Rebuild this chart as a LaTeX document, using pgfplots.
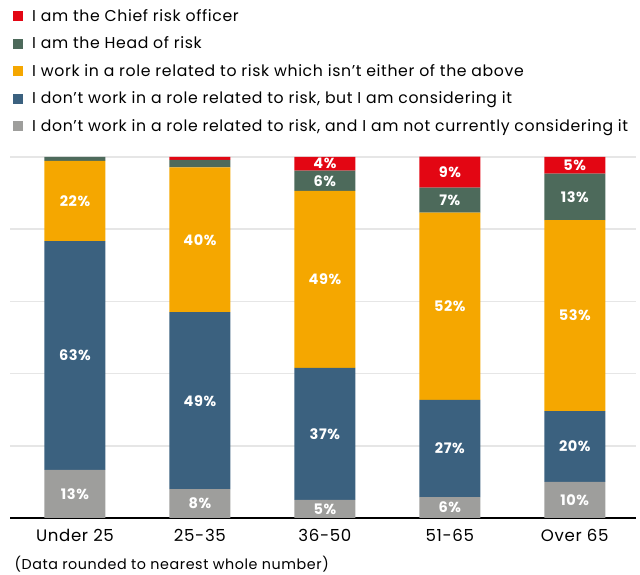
\documentclass[border=0pt]{standalone}
\usepackage{fontspec}
\setmainfont{Poppins}[LetterSpace=4]
\usepackage{pgfplots}
\usepackage{pgfplotstable}
\pgfplotsset{compat=1.18}
\definecolor{cro}{HTML}{E30613}
\definecolor{head}{HTML}{4D6A5B}
\definecolor{role}{HTML}{F5A700}
\definecolor{cons}{HTML}{3B617F}
\definecolor{notc}{HTML}{9E9E9C}
\definecolor{gridc}{HTML}{E6E6E6}
\pgfplotstableread{
x not cons role head cro
0 13.3 63.4 22.2 1.1 0
1 8.0 49.0 40.1 2.1 0.8
2 5.0 36.6 49.0 5.6 3.8
3 5.8 26.9 51.9 6.9 8.6
4 10.0 19.6 52.9 12.9 4.6
}\data
\pgfplotstablecreatecol[create col/expr={\thisrow{not}/2}]{mnot}{\data}
\pgfplotstablecreatecol[create col/expr={\thisrow{not}+\thisrow{cons}/2}]{mcons}{\data}
\pgfplotstablecreatecol[create col/expr={\thisrow{not}+\thisrow{cons}+\thisrow{role}/2}]{mrole}{\data}
\pgfplotstablecreatecol[create col/expr={\thisrow{not}+\thisrow{cons}+\thisrow{role}+\thisrow{head}/2}]{mhead}{\data}
\pgfplotstablecreatecol[create col/expr={\thisrow{not}+\thisrow{cons}+\thisrow{role}+\thisrow{head}+\thisrow{cro}/2}]{mcro}{\data}
\begin{document}
\begin{tikzpicture}
\begin{axis}[name=main, scale only axis, width=626pt, height=361pt,
  ybar stacked, bar width=61pt,
  xmin=-0.52, xmax=4.49, ymin=0, ymax=100,
  xtick={0,...,4}, xticklabels={Under 25,25-35,36-50,51-65,Over 65},
  ytick={0,20,40,60,80,100}, yticklabels={},
  ymajorgrids, grid style={color=gridc, line width=1.5pt},
  axis x line=bottom, axis y line=left, y axis line style={draw=none},
  x axis line style={-, black, line width=1.2pt},
  major tick length=0pt,
  xticklabel style={font=\fontsize{16.6}{19}\selectfont, yshift=-8pt},
  legend cell align=left, reverse legend,
  legend image code/.code={\fill[#1] (0pt,-5pt) rectangle (10pt,5pt);},
  legend style={at={(0,1)}, anchor=south west, xshift=3pt, yshift=22pt,
    draw=none, fill=none, inner sep=0pt, row sep=10pt, column sep=7pt,
    font=\fontsize{15.7}{18}\selectfont},
]
\addplot[fill=notc, draw=none] table[x=x, y=not]{\data};
\addlegendentry{I don’t work in a role related to risk, and I am not currently considering it}
\addplot[fill=cons, draw=none] table[x=x, y=cons]{\data};
\addlegendentry{I don’t work in a role related to risk, but I am considering it}
\addplot[fill=role, draw=none] table[x=x, y=role]{\data};
\addlegendentry{I work in a role related to risk which isn’t either of the above}
\addplot[fill=head, draw=none] table[x=x, y=head]{\data};
\addlegendentry{I am the Head of risk}
\addplot[fill=cro, draw=none] table[x=x, y=cro]{\data};
\addlegendentry{I am the Chief risk officer}
\end{axis}
\begin{axis}[at={(main.south west)}, anchor=south west, scale only axis,
  width=626pt, height=361pt, xmin=-0.52, xmax=4.49, ymin=0, ymax=100, hide axis,
  nodes near coords={\pgfmathprintnumber[fixed,precision=0,assume math mode=true]{\pgfplotspointmeta}\%},
  every node near coord/.append style={anchor=center, text=white, font=\fontsize{14.5}{17}\selectfont\bfseries},
  point meta=explicit]
\addplot[draw=none, mark=none] table[x=x, y=mnot, meta=not]{\data};
\addplot[draw=none, mark=none] table[x=x, y=mcons, meta=cons]{\data};
\addplot[draw=none, mark=none] table[x=x, y=mrole, meta=role]{\data};
\addplot[draw=none, mark=none, skip coords between index={0}{2}] table[x=x, y=mhead, meta=head]{\data};
\addplot[draw=none, mark=none, skip coords between index={0}{2}] table[x=x, y=mcro, meta=cro]{\data};
\end{axis}
\node[anchor=base west, font=\fontsize{14.3}{17}\selectfont] at ([xshift=1pt, yshift=-52pt]main.south west) {(Data rounded to nearest whole number)};
\pgfresetboundingbox
\useasboundingbox ([xshift=-10pt, yshift=-57pt]main.south west) rectangle ([xshift=4pt, yshift=157pt]main.north east);
\end{tikzpicture}
\end{document}
